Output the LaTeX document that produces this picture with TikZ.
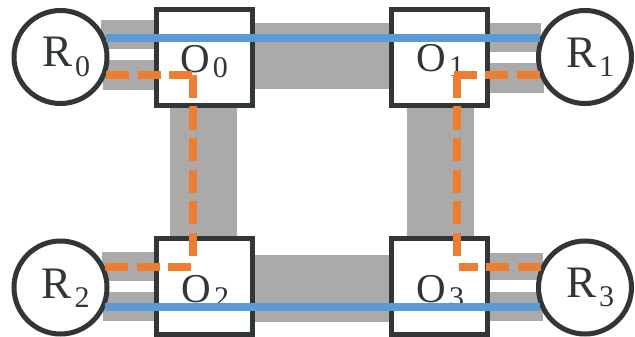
\documentclass[tikz,border=0pt]{standalone}
\usepackage{fontspec}
\setmainfont{Liberation Serif}
\definecolor{edgedark}{HTML}{313638}
\definecolor{linkgrey}{HTML}{ABAAA8}
\definecolor{pathblue}{HTML}{5B9BD5}
\definecolor{pathorange}{HTML}{ED7D31}
% router and optical-switch names with lowered index
\newcommand\rname[1]{\fontsize{45}{45}\selectfont R\kern3pt\raisebox{-9.5pt}{\fontsize{30}{30}\selectfont #1}}
\newcommand\oname[1]{\fontsize{41}{41}\selectfont O\kern3pt\raisebox{-5pt}{\fontsize{30}{30}\selectfont #1}}
\begin{document}
\begin{tikzpicture}[x=1pt,y=-1pt,
  router/.style={circle, draw=edgedark, line width=5pt, fill=white, minimum size=93pt, inner sep=0pt},
  optbox/.style={rectangle, draw=edgedark, line width=5pt, fill=white, minimum size=96pt, inner sep=0pt},
  nametag/.style={anchor=base west, inner sep=0pt, outer sep=0pt, text=edgedark},
  band/.style={fill=linkgrey},
  lightpath/.style={draw=pathblue, line width=8pt},
  darkpath/.style={draw=pathorange, line width=8pt, dash pattern=on 23pt off 8.5pt},
]
\useasboundingbox (0,0) rectangle (635,337);

% waveguide bands
\fill[band] (101,20) rectangle (205,49);
\fill[band] (103,60) rectangle (205,90);
\fill[band] (205,23) rectangle (439,89);
\fill[band] (439,23) rectangle (541,52);
\fill[band] (439,63) rectangle (544,93);
\fill[band] (170,57) rectangle (237,287);
\fill[band] (407,57) rectangle (474,287);
\fill[band] (205,255) rectangle (439,322);
\fill[band] (102,252) rectangle (205,281);
\fill[band] (103,292) rectangle (205,321);
\fill[band] (439,253) rectangle (543,280);
\fill[band] (439,292) rectangle (543,321);

% routers and optical switches
\node[router] (R0) at (60.5,57) {};
\node[router] (R1) at (585,57) {};
\node[router] (R2) at (60.5,287.5) {};
\node[router] (R3) at (585,287.5) {};
\node[optbox] (O0) at (204.5,57.5) {};
\node[optbox] (O1) at (439,57.5) {};
\node[optbox] (O2) at (204.5,286) {};
\node[optbox] (O3) at (439,286.5) {};

% names
\node[nametag] (R0tag) at (42,66.7) {\rname{0}};
\node[nametag] (R1tag) at (566.2,67) {\rname{1}};
\node[nametag] (R2tag) at (41.5,298) {\rname{2}};
\node[nametag] (R3tag) at (566.2,297) {\rname{3}};
\node[nametag] (O0tag) at (180.3,72.7) {\oname{0}};
\node[nametag] (O1tag) at (416.6,71.5) {\oname{1}};
\node[nametag] (O2tag) at (181.6,302.4) {\oname{2}};
\node[nametag] (O3tag) at (416.6,302.4) {\oname{3}};

% turning points of the dashed paths
\coordinate (k0) at (193,75);
\coordinate (k1) at (457,75);
\coordinate (k2) at (193,267);
\coordinate (k3) at (457,267);
\coordinate (k2end) at (193,258);
\coordinate (k3end) at (457,260);

% straight light paths
\draw[lightpath] (R0.23) -- (R1.157);
\draw[lightpath] (R2.-24) -- (R3.-156);

% dashed paths through the vertical links
\draw[darkpath] (k0 -| R0.-21.5) -- ([xshift=4pt]k0);
\draw[darkpath] (k0) -- (k2end);
\draw[darkpath] (k2 -| R2.24.7) -- ([xshift=2pt]k2);
\draw[darkpath] (k1 -| R1.-158.5) -- ([xshift=-4pt]k1);
\draw[darkpath] (k1) -- (k3end);
\draw[darkpath] (k3 -| R3.155.3) -- ([xshift=2pt]k3);
\end{tikzpicture}
\end{document}
